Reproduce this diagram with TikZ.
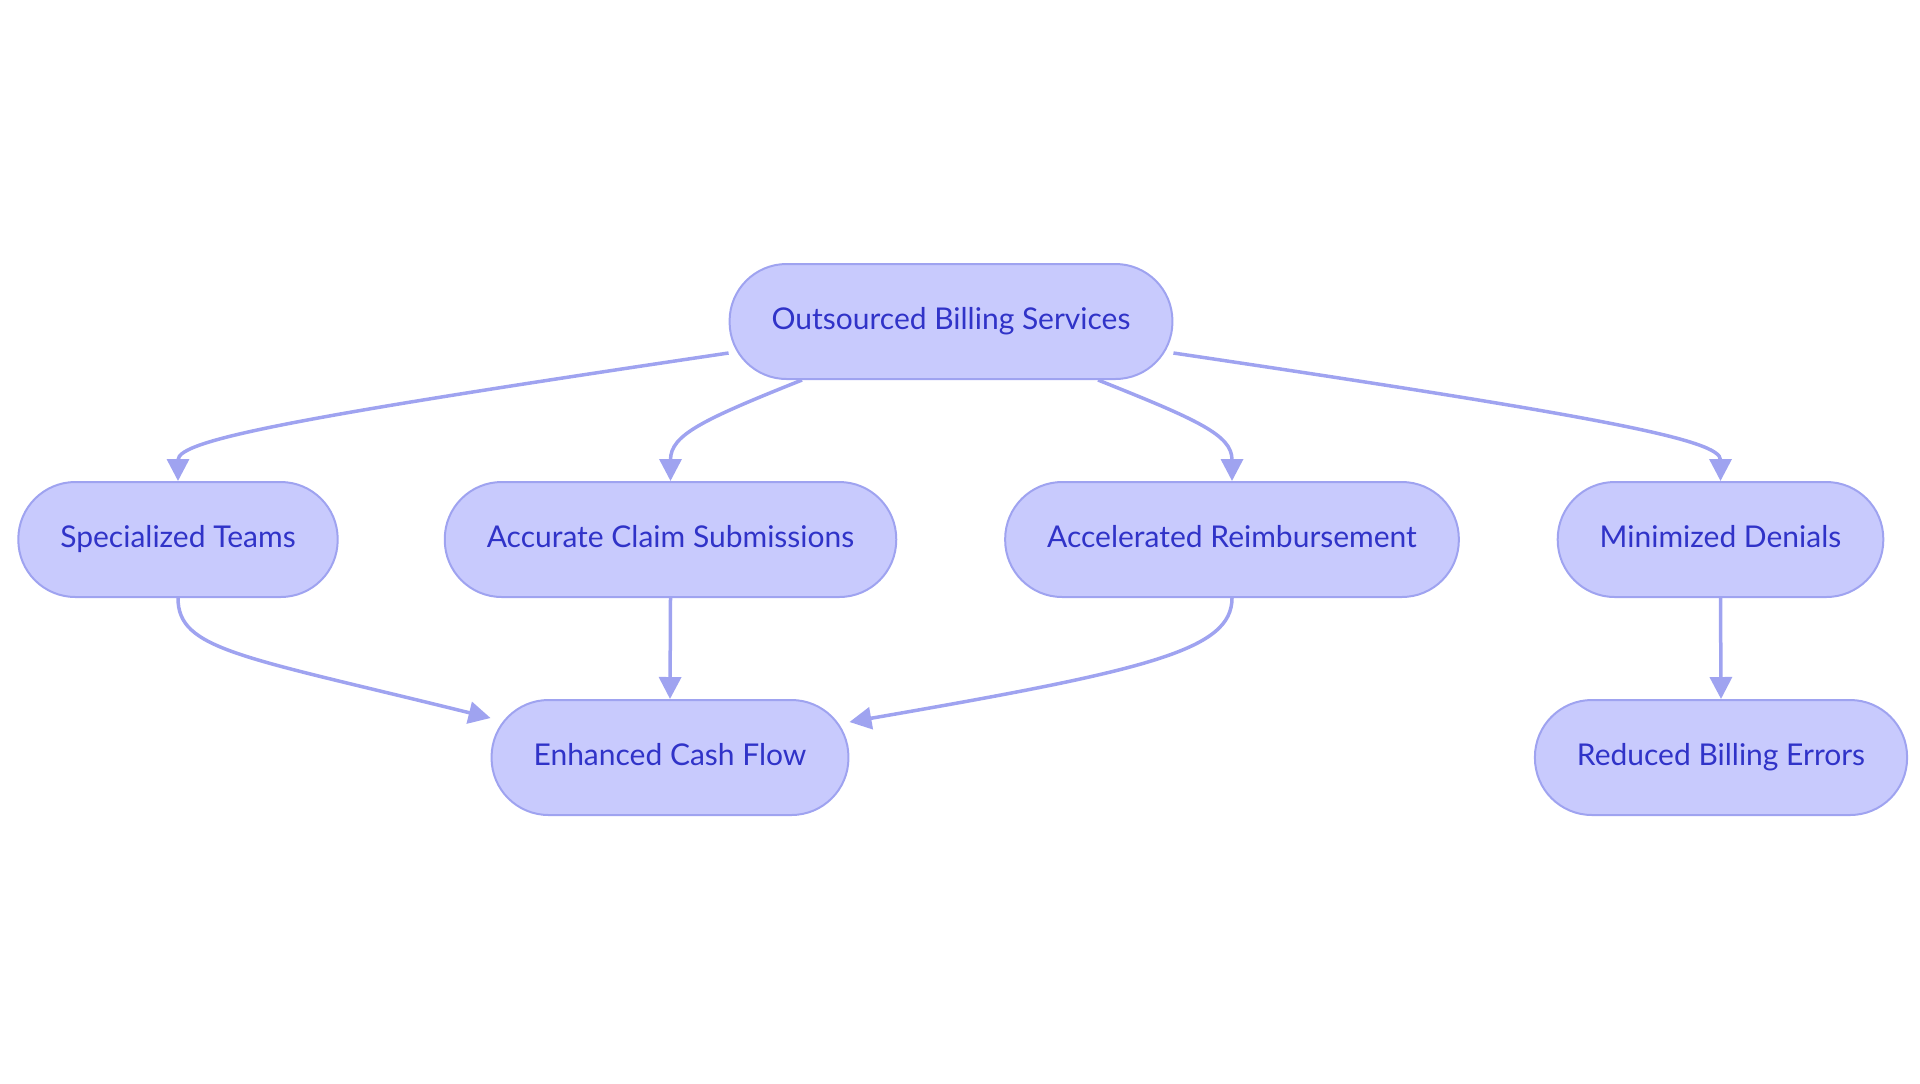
\documentclass[tikz,border=0pt]{standalone}
\usepackage{fontspec}
\setmainfont{Lato}
\usetikzlibrary{arrows.meta, positioning, calc}

\definecolor{pillfill}{HTML}{C8CAFD}
\definecolor{pillline}{HTML}{9FA3F0}
\definecolor{pilltext}{HTML}{3033C8}

\tikzset{
  pill/.style={draw=pillline, fill=pillfill, line width=1pt, rounded corners=28.5pt,
    minimum height=57.5pt, inner xsep=21pt, text height=1.75ex, text depth=0.1ex,
    text=pilltext, font=\fontsize{15pt}{18pt}\selectfont},
  link/.style={draw=pillline, line width=1.75pt, -{Triangle[length=11pt,width=11pt]}}
}

\begin{document}
\begin{tikzpicture}[x=0.5pt, y=-0.5pt]
                \useasboundingbox (0,0) rectangle (1920,1083);
                % Ligne du haut
                \node[pill] (osb) at (951,321.5) {Outsourced Billing Services};
                % Ligne du milieu
                \node[pill] (spt) at (178,539.5) {Specialized Teams};
                \node[pill] (acs) at (670.5,539.5) {Accurate Claim Submissions};
                \node[pill] (arm) at (1232,539.5) {Accelerated Reimbursement};
                \node[pill] (mden) at (1720.5,539.5) {Minimized Denials};
                % Ligne du bas
                \node[pill] (ecf) at (670,757.5) {Enhanced Cash Flow};
                \node[pill] (rbe) at (1721,757.5) {Reduced Billing Errors};

                % Liens depuis le haut
                \draw[link] ($(osb.west)+(0,31.5)$) .. controls +(-431,64) and +(0,-41) .. (spt.north);
                \draw[link] ($(osb.south)+(-149,0)$) .. controls +(-100,40) and +(0,-46) .. (acs.north);
                \draw[link] ($(osb.south)+(147,0)$) .. controls +(100,40) and +(0,-46) .. (arm.north);
                \draw[link] ($(osb.east)+(0,31.5)$) .. controls +(431,64) and +(0,-41) .. (mden.north);

                % Liens vers le bas
                \draw[link] (spt.south) .. controls +(0,52) and +(-250,-62) .. ($(ecf.west)+(0,-39.5)$);
                \draw[link] (acs.south) -- (ecf.north);
                \draw[link] (arm.south) .. controls +(0,52) and +(300,-52) .. ($(ecf.east)+(0,-35.5)$);
                \draw[link] (mden.south) -- (rbe.north);
            \end{tikzpicture}
\end{document}
